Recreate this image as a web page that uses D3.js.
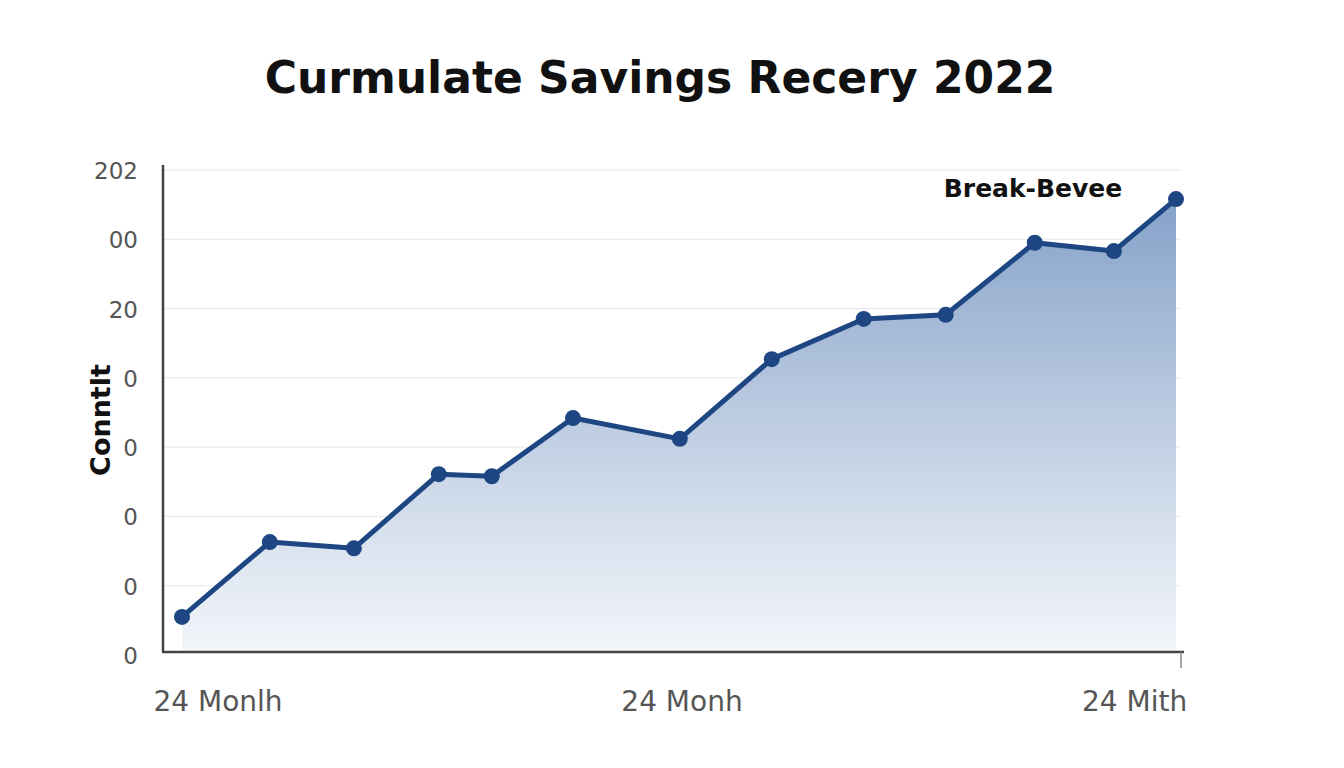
<!DOCTYPE html>
<html><head><meta charset="utf-8">
<script src="https://cdn.jsdelivr.net/npm/d3@7"></script>
<style>body{margin:0;background:#fff}</style>
</head><body>
<svg id="c" width="1344" height="768"></svg>
<script>
const months = [0, 2.12, 4.15, 6.2, 7.48, 9.44, 12.02, 14.24, 16.46, 18.44, 20.59, 22.5, 24];
const savings = [0.55, 1.63, 1.54, 2.61, 2.58, 3.42, 3.12, 4.27, 4.85, 4.91, 5.95, 5.83, 6.58];
const yTickLabels = ["0", "0", "0", "0", "0", "20", "00", "202"];
const xTickLabels = ["24 Monlh", "24 Monh", "24 Mith"];

const svg = d3.select("#c");
const font = "'DejaVu Sans', 'Open Sans', sans-serif";
const x = d3.scaleLinear().domain([0, 24]).range([182, 1176]);
const y = d3.scaleLinear().domain([0, 7]).range([655, 170]);
const data = months.map((m, i) => ({ m, v: savings[i] }));

// gradient
const grad = svg.append("defs").append("linearGradient")
  .attr("id", "g").attr("x1", 0).attr("y1", 0).attr("x2", 0).attr("y2", 1);
grad.append("stop").attr("offset", "0%").attr("stop-color", "#7f9dc6").attr("stop-opacity", 0.95);
grad.append("stop").attr("offset", "100%").attr("stop-color", "#f2f5fa").attr("stop-opacity", 0.9);

// grid
svg.append("g").selectAll("line").data(d3.range(1, 8)).join("line")
  .attr("x1", 163).attr("x2", 1180)
  .attr("y1", d => y(d)).attr("y2", d => y(d))
  .attr("stroke", "#e4e6ea").attr("stroke-width", 1);

// area
svg.append("path").datum(data)
  .attr("d", d3.area().x(d => x(d.m)).y0(652).y1(d => y(d.v)))
  .attr("fill", "url(#g)");

// axes
svg.append("line").attr("x1", 163).attr("x2", 163).attr("y1", 165).attr("y2", 652)
  .attr("stroke", "#444").attr("stroke-width", 2.5);
svg.append("line").attr("x1", 162).attr("x2", 1184).attr("y1", 652).attr("y2", 652)
  .attr("stroke", "#444").attr("stroke-width", 2.5);
svg.append("line").attr("x1", 1181).attr("x2", 1181).attr("y1", 652).attr("y2", 668)
  .attr("stroke", "#888").attr("stroke-width", 1.5);

// y tick labels
svg.append("g").selectAll("text").data(yTickLabels).join("text")
  .attr("x", 138).attr("y", (d, i) => y(i) + 9)
  .attr("text-anchor", "end").attr("font-family", font).attr("font-size", 23)
  .attr("fill", "#555").text(d => d);

// x tick labels
const xLabelPos = [0, 12, 23];
svg.append("g").selectAll("text").data(xTickLabels).join("text")
  .attr("x", (d, i) => x(xLabelPos[i]) + (i === 0 ? 36 : i === 1 ? 3 : 0))
  .attr("y", 711).attr("text-anchor", "middle")
  .attr("font-family", font).attr("font-size", 28).attr("fill", "#555").text(d => d);

// line + dots
svg.append("path").datum(data)
  .attr("d", d3.line().x(d => x(d.m)).y(d => y(d.v)))
  .attr("fill", "none").attr("stroke", "#1d4682").attr("stroke-width", 5)
  .attr("stroke-linejoin", "round");
svg.append("g").selectAll("circle").data(data).join("circle")
  .attr("cx", d => x(d.m)).attr("cy", d => y(d.v)).attr("r", 8)
  .attr("fill", "#1d4682");

// texts
svg.append("text").attr("x", 660).attr("y", 93).attr("text-anchor", "middle")
  .attr("font-family", font).attr("font-weight", 700).attr("font-size", 44)
  .attr("fill", "#111").text("Curmulate Savings Recery 2022");
svg.append("text").attr("x", 1033).attr("y", 197).attr("text-anchor", "middle")
  .attr("font-family", font).attr("font-weight", 700).attr("font-size", 25)
  .attr("fill", "#111").text("Break-Bevee");
svg.append("text").attr("transform", "translate(110,420) rotate(-90)")
  .attr("text-anchor", "middle").attr("font-family", font).attr("font-weight", 700)
  .attr("font-size", 27).attr("fill", "#111").text("Conntlt");
</script>
</body></html>
